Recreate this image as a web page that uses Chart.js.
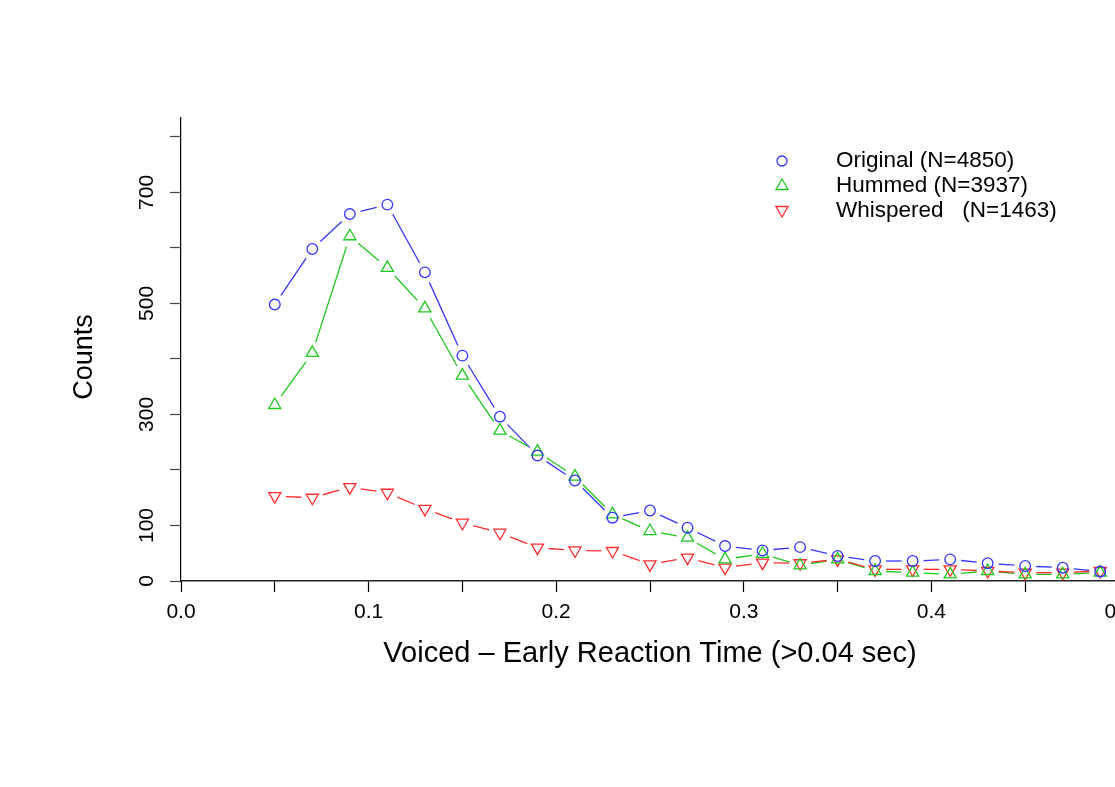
<!DOCTYPE html>
<html>
<head>
<meta charset="utf-8">
<script src="https://cdn.jsdelivr.net/npm/chart.js@4/dist/chart.umd.min.js"></script>
<style>
  html, body { margin: 0; padding: 0; background: #fff; overflow: hidden; width: 1115px; height: 787px; }
  canvas { position: absolute; left: 0; top: 0; }
</style>
</head>
<body>
<canvas id="c" width="1160" height="787"></canvas>
<script>
// ---- data ----
const reactionTimes = [0.05, 0.07, 0.09, 0.11, 0.13, 0.15, 0.17, 0.19, 0.21, 0.23, 0.25, 0.27,
                       0.29, 0.31, 0.33, 0.35, 0.37, 0.39, 0.41, 0.43, 0.45, 0.47, 0.49];
const originalCounts  = [498, 598, 661, 678, 556, 406, 296, 226, 181, 114, 127, 96,
                         63, 55, 61, 45, 36, 36, 39, 32, 27, 24, 17];
const hummedCounts    = [317, 411, 621, 564, 491, 370, 271, 233, 188, 120, 90, 78,
                         39, 49, 28, 39, 18, 15, 12, 18, 12, 12, 15];
const whisperedCounts = [153, 150, 169, 159, 130, 105, 87, 60, 55, 54, 30, 42,
                         24, 33, 32, 39, 21, 21, 21, 18, 15, 15, 18];
const seriesLabels = ['Original (N=4850)', 'Hummed (N=3937)', 'Whispered   (N=1463)'];
const xTickValues = [0, 0.05, 0.1, 0.15, 0.2, 0.25, 0.3, 0.35, 0.4, 0.45, 0.5];
const yTickValues = [0, 100, 200, 300, 400, 500, 600, 700, 800];
const yTickLabels = {0: '0', 100: '100', 300: '300', 500: '500', 700: '700'};
const xTitle = 'Voiced – Early Reaction Time (>0.04 sec)';
const yTitle = 'Counts';

const COLORS = ['#3535ff', '#1ec81e', '#ff2d2d'];
const FONT = "'Liberation Sans', Arial, Helvetica, sans-serif";

const toPoints = vals => reactionTimes.map((x, i) => ({x: x, y: vals[i]}));

// lines with gaps around markers (like R type="b")
const gapLines = {
  id: 'gapLines',
  beforeDatasetsDraw(chart) {
    const ctx = chart.ctx;
    const gap = 11;
    ctx.save();
    chart.data.datasets.forEach((ds, di) => {
      const meta = chart.getDatasetMeta(di);
      ctx.strokeStyle = ds.borderColor;
      ctx.lineWidth = 1.3;
      for (let i = 0; i < meta.data.length - 1; i++) {
        const a = meta.data[i], b = meta.data[i + 1];
        const dx = b.x - a.x, dy = b.y - a.y;
        const len = Math.hypot(dx, dy);
        if (len <= 2 * gap) continue;
        const ux = dx / len, uy = dy / len;
        ctx.beginPath();
        ctx.moveTo(a.x + ux * gap, a.y + uy * gap);
        ctx.lineTo(b.x - ux * gap, b.y - uy * gap);
        ctx.stroke();
      }
    });
    ctx.restore();
  }
};

// rotated y tick labels, y title + legend
const extras = {
  id: 'extras',
  afterDraw(chart) {
    const ctx = chart.ctx;
    const y = chart.scales.y;
    ctx.save();
    ctx.fillStyle = '#000';
    ctx.font = '21px ' + FONT;
    ctx.textAlign = 'center';
    ctx.textBaseline = 'alphabetic';
    yTickValues.forEach(v => {
      if (!(v in yTickLabels)) return;
      const py = y.getPixelForValue(v);
      ctx.save();
      ctx.translate(153, py);
      ctx.rotate(-Math.PI / 2);
      ctx.fillText(yTickLabels[v], 0, 0);
      ctx.restore();
    });
    // y axis title
    ctx.save();
    ctx.font = '27px ' + FONT;
    ctx.textBaseline = 'middle';
    ctx.translate(85, 357);
    ctx.rotate(-Math.PI / 2);
    ctx.fillText(yTitle, 0, 0);
    ctx.restore();
    // legend
    const rows = [161, 186, 211];
    const styles = ['circle', 'triangle', 'triangle'];
    const rots = [0, 0, 180];
    const radii = [5, 7, 7];
    const mOff = [0, 0, -1];
    chart.data.datasets.forEach((ds, i) => {
      ctx.strokeStyle = ds.borderColor;
      ctx.fillStyle = 'rgba(0,0,0,0)';
      ctx.lineWidth = 1.3;
      Chart.helpers.drawPoint(ctx, {pointStyle: styles[i], radius: radii[i], rotation: rots[i], borderWidth: 1.3},
                              782, rows[i] + mOff[i]);
      ctx.fillStyle = '#000';
      ctx.font = '22.5px ' + FONT;
      ctx.textAlign = 'left';
      ctx.textBaseline = 'middle';
      ctx.fillText(seriesLabels[i], 836, rows[i]);
    });
    ctx.restore();
  }
};

const mk = (label, vals, color, style, rot, r) => ({
  label: label,
  data: toPoints(vals),
  showLine: false,
  borderColor: color,
  backgroundColor: 'rgba(0,0,0,0)',
  pointBackgroundColor: 'rgba(0,0,0,0)',
  pointBorderColor: color,
  pointBorderWidth: 1.3,
  pointStyle: style,
  pointRotation: rot,
  pointRadius: r,
  pointHoverRadius: r
});

new Chart(document.getElementById('c'), {
  type: 'line',
  data: {
    datasets: [
      mk(seriesLabels[0], originalCounts, COLORS[0], 'circle', 0, 5.3),
      mk(seriesLabels[1], hummedCounts, COLORS[1], 'triangle', 0, 7),
      mk(seriesLabels[2], whisperedCounts, COLORS[2], 'triangle', 180, 7)
    ]
  },
  plugins: [gapLines, extras],
  options: {
    responsive: false,
    devicePixelRatio: 1,
    animation: false,
    events: [],
    layout: { padding: { top: 118, left: 69, right: 41, bottom: 115.6 } },
    plugins: { legend: { display: false }, tooltip: { enabled: false } },
    scales: {
      x: {
        type: 'linear',
        min: 0, max: 0.5,
        afterBuildTicks: s => { s.ticks = xTickValues.map(v => ({value: v})); },
        afterFit: s => { s.height = 90.4; },
        grid: { drawOnChartArea: false, drawTicks: true, tickLength: 11, color: '#000', tickWidth: 1.2 },
        border: { display: true, color: '#222', width: 1.4 },
        ticks: {
          padding: 8,
          color: '#000',
          font: { family: FONT, size: 21 },
          maxRotation: 0,
          autoSkip: false,
          callback: v => (Math.abs(v * 10 - Math.round(v * 10)) < 1e-6 ? v.toFixed(1) : '')
        },
        title: { display: true, text: xTitle, color: '#000',
                 padding: 0, font: { family: FONT, size: 29 } }
      },
      y: {
        type: 'linear',
        min: 0, max: 834,
        afterBuildTicks: s => { s.ticks = yTickValues.map(v => ({value: v})); },
        afterFit: s => { s.width = 112; },
        grid: { drawOnChartArea: false, drawTicks: true, tickLength: 11, color: '#444', tickWidth: 1.2 },
        border: { display: true, color: '#000', width: 1.2 },
        ticks: { display: false },
        title: { display: false }
      }
    }
  }
});
</script>
</body>
</html>
